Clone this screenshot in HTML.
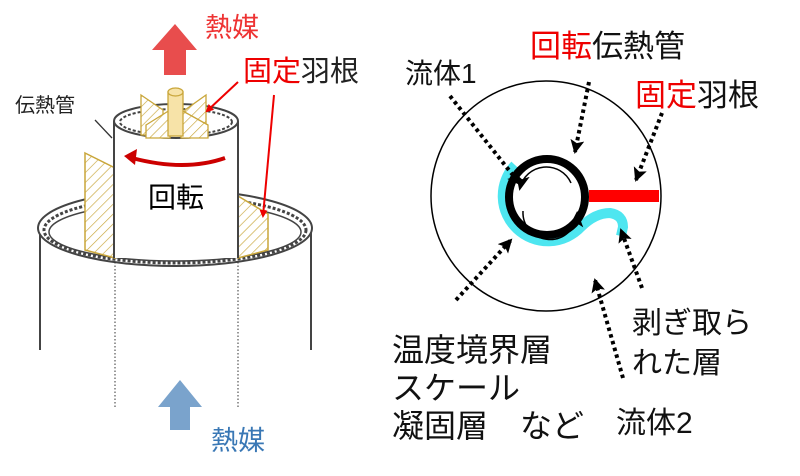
<!DOCTYPE html>
<html><head><meta charset="utf-8"><style>
html,body{margin:0;padding:0;background:#fff;width:800px;height:476px;overflow:hidden}
svg text{font-family:"Liberation Sans","Noto Sans CJK JP",sans-serif}
</style></head><body>
<svg width="800" height="476" viewBox="0 0 800 476" xmlns="http://www.w3.org/2000/svg">
<defs>
<pattern id="h" width="7" height="7" patternUnits="userSpaceOnUse" patternTransform="rotate(45)">
<rect width="7" height="7" fill="#fff"/><line x1="0" y1="0" x2="0" y2="7" stroke="#c9a63a" stroke-width="1.3"/></pattern>
<marker id="ar" markerWidth="8" markerHeight="8" refX="6" refY="4" orient="auto" markerUnits="userSpaceOnUse"><path d="M0,0 L8,4 L0,8z" fill="#e00"/></marker>
<marker id="ak" markerWidth="14" markerHeight="14" refX="12" refY="7" orient="auto" markerUnits="userSpaceOnUse"><path d="M0,0 L14,7 L0,14 L3,7z" fill="#000"/></marker>
<marker id="ak2" markerWidth="16" markerHeight="14" refX="13" refY="7" orient="auto" markerUnits="userSpaceOnUse"><path d="M0,0 L16,7 L0,14 L4,7z" fill="#000"/></marker>
</defs>
<line x1="40" y1="232" x2="40" y2="350" stroke="#444" stroke-width="2"/>
<line x1="311" y1="232" x2="311" y2="350" stroke="#444" stroke-width="2"/>
<ellipse cx="175" cy="228" rx="137" ry="38" fill="#fff" stroke="#444" stroke-width="2"/>
<ellipse cx="175" cy="230" rx="131" ry="33" fill="none" stroke="#444" stroke-width="3" stroke-dasharray="3 2"/>
<ellipse cx="175" cy="232" rx="126" ry="29" fill="none" stroke="#444" stroke-width="1.5"/>
<line x1="115" y1="262" x2="115" y2="408" stroke="#333" stroke-dasharray="1.5 2"/>
<line x1="238" y1="262" x2="238" y2="408" stroke="#333" stroke-dasharray="1.5 2"/>
<polygon points="85,153 115,168 115,258 85,250" fill="url(#h)" stroke="#c9a63a" stroke-width="1.5"/>
<polygon points="238,196 268,214 268,250 238,258" fill="url(#h)" stroke="#c9a63a" stroke-width="1.5"/>
<rect x="114" y="121" width="124" height="137" fill="#fff"/>
<line x1="114" y1="121" x2="114" y2="258" stroke="#444" stroke-width="2"/>
<line x1="238" y1="121" x2="238" y2="258" stroke="#444" stroke-width="2"/>
<ellipse cx="176" cy="121" rx="62" ry="17" fill="#fff" stroke="#444" stroke-width="2"/>
<ellipse cx="176" cy="122" rx="56" ry="13" fill="none" stroke="#444" stroke-width="2" stroke-dasharray="3 2"/>
<polygon points="141,95 163,110 163,135 141,135" fill="url(#h)" stroke="#c9a63a" stroke-width="1.3"/>
<polygon points="206,95 185,110 185,135 206,135" fill="url(#h)" stroke="#c9a63a" stroke-width="1.3"/>
<polygon points="146,125 170,110 170,138 146,138" fill="url(#h)" stroke="#c9a63a" stroke-width="1.3"/>
<polygon points="208,125 181,110 181,138 208,138" fill="url(#h)" stroke="#c9a63a" stroke-width="1.3"/>
<rect x="168" y="92" width="15" height="44" fill="#f7e3a8" stroke="#c9a63a" stroke-width="1.3"/>
<ellipse cx="175.5" cy="92" rx="7.5" ry="4" fill="#f7e3a8" stroke="#c9a63a" stroke-width="1.3"/>
<line x1="95" y1="120" x2="112" y2="138" stroke="#333" stroke-width="1.3"/>
<path d="M225,158 Q185,172 132,158" fill="none" stroke="#c00" stroke-width="4"/>
<path d="M124,156 L137,149 L135,165z" fill="#c00"/>
<rect x="120" y="180" width="116" height="34" fill="#fff"/>
<text x="148" y="207" font-size="28">回転</text>
<path d="M152,50 L175,24 L197,50 L186,50 L186,75 L164,75 L164,50z" fill="#e84d4d"/>
<path d="M158,407 L180,380 L202,407 L190,407 L190,430 L170,430 L170,407z" fill="#7aa3cc"/>
<text x="205" y="37" font-size="27" fill="#e33">熱媒</text>
<text x="211" y="450" font-size="27" fill="#3a78b5">熱媒</text>
<text x="243" y="81" font-size="29"><tspan fill="#e00">固定</tspan><tspan fill="#222">羽根</tspan></text>
<text x="15" y="112" font-size="20" fill="#222">伝熱管</text>
<line x1="238" y1="82" x2="207" y2="111" stroke="#e00" stroke-width="2" marker-end="url(#ar)"/>
<line x1="274" y1="95" x2="263" y2="216" stroke="#e00" stroke-width="2" marker-end="url(#ar)"/>
<circle cx="546" cy="196" r="115" fill="none" stroke="#000" stroke-width="1.5"/>
<path d="M515,165 A45,45 0 0 0 581,227 Q595,213 610,213 Q623,215 623,227 L621,236" fill="none" stroke="#4ee6f0" stroke-width="10"/>
<circle cx="547" cy="197" r="38" fill="#fff" stroke="#000" stroke-width="8"/>
<rect x="589" y="190" width="70" height="12" fill="#f00"/>
<path d="M571,183 A27,27 0 0 0 520,188" fill="none" stroke="#000" stroke-width="1.5" marker-end="url(#ak2)"/>
<path d="M523,211 A27,27 0 0 0 577,214" fill="none" stroke="#000" stroke-width="1.5" marker-end="url(#ak2)"/>
<g stroke="#000" stroke-width="4" stroke-dasharray="3.5 3.5" fill="none">
<line x1="450" y1="96" x2="520" y2="184" marker-end="url(#ak)"/>
<line x1="589" y1="82" x2="575" y2="152" marker-end="url(#ak)"/>
<line x1="662" y1="113" x2="636" y2="180" marker-end="url(#ak)"/>
<line x1="456" y1="300" x2="511" y2="240" marker-end="url(#ak)"/>
<line x1="642" y1="288" x2="621" y2="230" marker-end="url(#ak)"/>
<line x1="623" y1="378" x2="595" y2="280" marker-end="url(#ak)"/>
</g>
<g font-size="28" fill="#111">
<text x="405" y="83">流体1</text>
<text x="530" y="57" font-size="31"><tspan fill="#e00">回転</tspan>伝熱管</text>
<text x="635" y="106" font-size="31"><tspan fill="#e00">固定</tspan>羽根</text>
<text x="632" y="333" font-size="30">剥ぎ取ら</text>
<text x="632" y="373" font-size="30">れた層</text>
<text x="392" y="361" font-size="32">温度境界層</text>
<text x="392" y="399" font-size="32">スケール</text>
<text x="392" y="437" font-size="32">凝固層　など</text>
<text x="616" y="433" font-size="30">流体2</text>
</g>
</svg>
</body></html>
